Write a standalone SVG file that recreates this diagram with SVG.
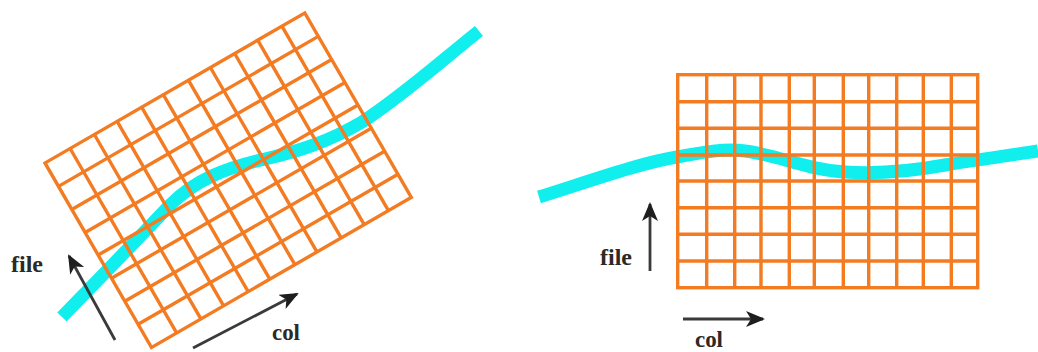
<svg xmlns="http://www.w3.org/2000/svg" width="1038" height="352" viewBox="0 0 1038 352">
<style>
.grid{fill:none;stroke:#F37B22;stroke-width:3.4}
.curve{fill:none;stroke:#10EEEE;stroke-width:13;stroke-linecap:butt;stroke-linejoin:round}
.arr{fill:none;stroke:#3a3a3a;stroke-width:2.8}
.lbl{font-family:"Liberation Serif",serif;font-weight:bold;font-size:23px;fill:#2a2a2a}
</style>
<defs>
<marker id="ah" markerUnits="userSpaceOnUse" markerWidth="20" markerHeight="18" refX="17" refY="8" orient="auto">
<path d="M0,0 L19,8 L0,16 L5,8 z" fill="#1e1e1e"/>
</marker>
<g id="gridshape">
<rect x="0" y="0" width="300" height="213"/>
<path d="M29,0V213M57,0V213M83.3,0V213M111.6,0V213M136.6,0V213M165.6,0V213M191,0V213M219,0V213M245.6,0V213M273.6,0V213"/>
<path d="M0,27H300M0,53.6H300M0,80.3H300M0,106.3H300M0,133H300M0,159.6H300M0,186.3H300"/>
</g>
</defs>

<g id="left-curve">
<path class="curve" d="M62,317 C95,283 135,242 170,205 C195,180 225,168 265,159 C300,151 330,141 362,122 C400,98 445,58 479,31"/>
</g>
<g id="left-grid" class="grid">
<use href="#gridshape" transform="translate(45,163) rotate(-30)"/>
</g>

<g id="right-curve">
<path class="curve" d="M539,197 C590,181 640,163 677,157 C700,153 722,148 745,151 C778,155 808,170 845,172 C875,174 912,171 945,165 C975,160 1005,156 1038,151"/>
</g>
<g id="right-grid" class="grid">
<use href="#gridshape" transform="translate(677.7,74.7)"/>
</g>

<g id="connectors">
<line class="arr" x1="115" y1="340" x2="69" y2="256" marker-end="url(#ah)"/>
<line class="arr" x1="193" y1="348" x2="297" y2="294" marker-end="url(#ah)"/>
<line class="arr" x1="650" y1="271" x2="650" y2="204" marker-end="url(#ah)"/>
<line class="arr" x1="683" y1="319" x2="763" y2="319" marker-end="url(#ah)"/>
</g>

<g id="labels">
<text class="lbl" x="11" y="272" textLength="32" lengthAdjust="spacingAndGlyphs">file</text>
<text class="lbl" x="272" y="340" textLength="28" lengthAdjust="spacingAndGlyphs">col</text>
<text class="lbl" x="600" y="265" textLength="32" lengthAdjust="spacingAndGlyphs">file</text>
<text class="lbl" x="695" y="347" textLength="28" lengthAdjust="spacingAndGlyphs">col</text>
</g>
</svg>
